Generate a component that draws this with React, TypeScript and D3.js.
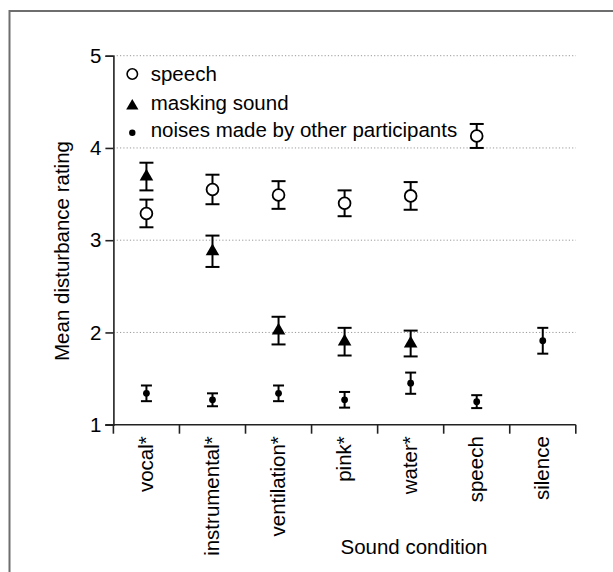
import React, { useEffect, useRef } from "react";
import * as d3 from "d3";

const categories = ["vocal*", "instrumental*", "ventilation*", "pink*", "water*", "speech", "silence"];
const yTicks = [1, 2, 3, 4, 5];

// speech (open circles)
const speechMean = [3.29, 3.55, 3.49, 3.4, 3.48, 4.13, null];
const speechErr = [0.15, 0.16, 0.15, 0.14, 0.15, 0.13, null];
// masking sound (triangles)
const maskingMean = [3.69, 2.88, 2.02, 1.9, 1.88, null, null];
const maskingErr = [0.15, 0.17, 0.15, 0.15, 0.14, null, null];
// noises made by other participants (dots)
const noiseMean = [1.34, 1.27, 1.34, 1.27, 1.45, 1.25, 1.91];
const noiseErr = [0.085, 0.07, 0.085, 0.085, 0.115, 0.07, 0.14];

const legendLabels = ["speech", "masking sound", "noises made by other participants"];

export default function App() {
  const ref = useRef<SVGSVGElement>(null);

  useEffect(() => {
    const svg = d3.select(ref.current);
    svg.selectAll("*").remove();
    const font = "'Liberation Sans', Arial, sans-serif";

    const x = d3.scaleBand().domain(categories).range([113.4, 575.8]).padding(0);
    const y = d3.scaleLinear().domain([1, 5]).range([424.7, 55.7]);

    // frame
    svg.append("path")
      .attr("d", "M9.5,613 V11 H613")
      .attr("fill", "none")
      .attr("stroke", "#6e6e6e")
      .attr("stroke-width", 2);

    // grid
    svg.append("g").selectAll("line")
      .data(yTicks.filter(t => t > 1))
      .enter().append("line")
      .attr("x1", x.range()[0]).attr("x2", x.range()[1])
      .attr("y1", d => y(d)).attr("y2", d => y(d))
      .attr("stroke", "#999")
      .attr("stroke-width", 1)
      .attr("stroke-dasharray", "1.2,2.1");

    // y axis
    const yAxis = d3.axisLeft(y).tickValues(yTicks).tickFormat(d3.format("d")).tickSize(8).tickPadding(4);
    const gy = svg.append("g").attr("transform", "translate(" + x.range()[0] + ",0)").call(yAxis);
    gy.select(".domain").attr("stroke", "#222").attr("stroke-width", 1.6);
    gy.selectAll(".tick line").attr("stroke", "#222").attr("stroke-width", 1.6);
    gy.selectAll(".tick text").attr("font-family", font).attr("font-size", 20.5).attr("fill", "#000");

    // x axis: ticks at band boundaries
    const xAxisY = y(1);
    svg.append("line")
      .attr("x1", x.range()[0] - 8).attr("x2", x.range()[1])
      .attr("y1", xAxisY).attr("y2", xAxisY)
      .attr("stroke", "#222").attr("stroke-width", 1.6);
    const bounds = categories.map(c => x(c) as number).concat([x.range()[1]]);
    svg.append("g").selectAll("line")
      .data(bounds)
      .enter().append("line")
      .attr("x1", d => d).attr("x2", d => d)
      .attr("y1", xAxisY).attr("y2", xAxisY + 9)
      .attr("stroke", "#222").attr("stroke-width", 1.6);
    svg.append("g").selectAll("text")
      .data(categories)
      .enter().append("text")
      .attr("transform", d => "translate(" + ((x(d) as number) + x.bandwidth() / 2) + "," + (xAxisY + 11.5) + ") rotate(-90)")
      .attr("text-anchor", "end")
      .attr("dy", "0.3em")
      .attr("font-family", font)
      .attr("font-size", 20.5)
      .text(d => d);

    // axis titles
    svg.append("text")
      .attr("transform", "translate(69.4,251) rotate(-90)")
      .attr("text-anchor", "middle")
      .attr("font-family", font)
      .attr("font-size", 20.5)
      .text("Mean disturbance rating");
    svg.append("text")
      .attr("x", 414).attr("y", 554)
      .attr("text-anchor", "middle")
      .attr("font-family", font)
      .attr("font-size", 20.5)
      .text("Sound condition");

    const cx = (i: number) => (x(categories[i]) as number) + x.bandwidth() / 2;

    const drawErr = (means: (number | null)[], errs: (number | null)[], cap: number) => {
      const g = svg.append("g").attr("stroke", "#000").attr("stroke-width", 2).attr("fill", "none");
      means.forEach((m, i) => {
        if (m == null) return;
        const e = errs[i] as number;
        const X = cx(i);
        g.append("line").attr("x1", X).attr("x2", X).attr("y1", y(m + e)).attr("y2", y(m - e));
        g.append("line").attr("x1", X - cap / 2).attr("x2", X + cap / 2).attr("y1", y(m + e)).attr("y2", y(m + e));
        g.append("line").attr("x1", X - cap / 2).attr("x2", X + cap / 2).attr("y1", y(m - e)).attr("y2", y(m - e));
      });
    };

    drawErr(speechMean, speechErr, 14);
    drawErr(maskingMean, maskingErr, 14);
    drawErr(noiseMean, noiseErr, 11);

    const tri = d3.symbol(d3.symbolTriangle, 80)();

    speechMean.forEach((m, i) => {
      if (m == null) return;
      svg.append("circle").attr("cx", cx(i)).attr("cy", y(m)).attr("r", 5.9)
        .attr("fill", "#fff").attr("stroke", "#000").attr("stroke-width", 1.8);
    });
    maskingMean.forEach((m, i) => {
      if (m == null) return;
      svg.append("path").attr("d", tri).attr("transform", "translate(" + cx(i) + "," + y(m) + ")").attr("fill", "#000");
    });
    noiseMean.forEach((m, i) => {
      if (m == null) return;
      svg.append("circle").attr("cx", cx(i)).attr("cy", y(m)).attr("r", 3.4).attr("fill", "#000");
    });

    // legend
    const lg = svg.append("g").attr("font-family", font).attr("font-size", 20.5);
    lg.append("circle").attr("cx", 132.3).attr("cy", 74).attr("r", 5.2)
      .attr("fill", "#fff").attr("stroke", "#000").attr("stroke-width", 1.6);
    lg.append("path").attr("d", d3.symbol(d3.symbolTriangle, 65)()).attr("transform", "translate(132.3,106)");
    lg.append("circle").attr("cx", 132.3).attr("cy", 132.7).attr("r", 3.2).attr("fill", "#000");
    legendLabels.forEach((t, i) => {
      lg.append("text").attr("x", 150.7).attr("y", [81, 110, 137][i]).text(t);
    });
  }, []);

  return (
    <svg ref={ref} width={613} height={572} style={{ position: "absolute", left: 0, top: 0, display: "block", background: "#fff" }} />
  );
}
